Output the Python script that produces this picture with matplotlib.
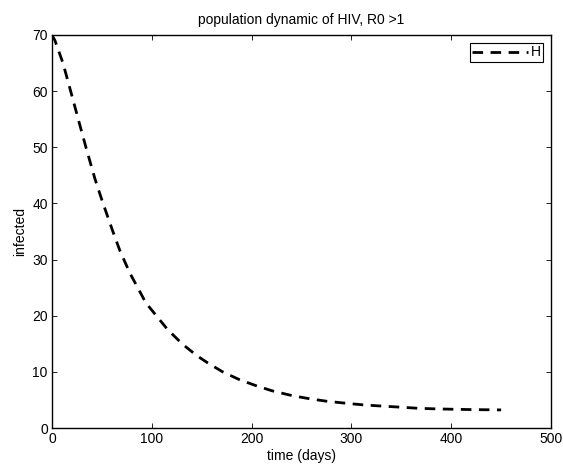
import matplotlib
matplotlib.use('Agg')
import matplotlib.pyplot as plt

# values
time_days = [0, 3, 11, 19, 28, 34, 43, 50, 61, 68, 78, 94, 116, 131, 145, 156, 171, 188,
             205, 221, 241, 260, 276, 295, 313, 331, 350, 368, 386, 405, 423, 441, 450]
infected = [70, 69.0, 65.0, 59.8, 53.9, 50.0, 44.4, 40.6, 35.0, 31.6, 27.6, 22.3, 17.5,
            14.9, 12.9, 11.6, 10.0, 8.6, 7.5, 6.6, 5.75, 5.15, 4.75, 4.4, 4.1, 3.9, 3.7,
            3.5, 3.4, 3.33, 3.27, 3.24, 3.22]

x_ticks = [0, 100, 200, 300, 400, 500]
y_ticks = [0, 10, 20, 30, 40, 50, 60, 70]

plt.rcParams.update({'font.size': 10,
                     'font.family': ['Liberation Sans', 'DejaVu Sans']})

fig = plt.figure(figsize=(5.63, 4.70), dpi=100)
ax = fig.add_axes([52 / 563, 42 / 470, 499 / 563, 393 / 470])

ax.plot(time_days, infected, color='black', linestyle='--', linewidth=2.0,
        dashes=(3.8, 2.7), label='H')

ax.set_xlim(0, 500)
ax.set_ylim(0, 70)
ax.set_xticks(x_ticks)
ax.set_yticks(y_ticks)
ax.tick_params(direction='in', length=3.5, width=0.6, top=True, right=True,
               labelsize=10, pad=3)
for s in ax.spines.values():
    s.set_linewidth(1.0)

ax.set_xlabel('time (days)', labelpad=2)
ax.set_ylabel('infected', labelpad=4)
ax.set_title('population dynamic of HIV, R0 >1', fontsize=10, pad=8)

leg = ax.legend(loc='upper right', frameon=True, fancybox=False, shadow=False,
                handlelength=4.0, handletextpad=0.2, borderpad=0.15,
                borderaxespad=0.6)
leg.get_frame().set_edgecolor('black')
leg.get_frame().set_linewidth(0.8)
leg.get_frame().set_alpha(1)

fig.savefig('out.png', dpi=100)
